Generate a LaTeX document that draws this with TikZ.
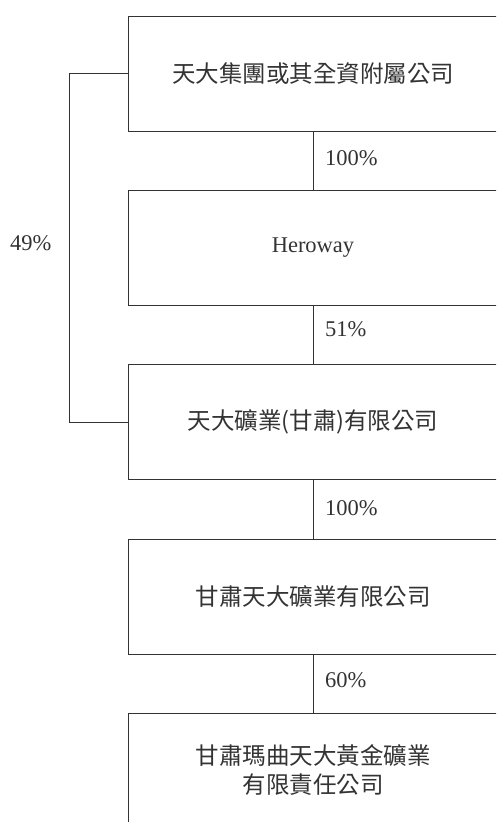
\documentclass[tikz,border=0pt]{standalone}
\usepackage{fontspec}
\setmainfont{Liberation Serif}
\newfontfamily\cjk{Noto Sans CJK TC}
\usepackage{tikz}
\usetikzlibrary{calc}
\definecolor{ink}{HTML}{333333}

\begin{document}
\begin{tikzpicture}[x=1pt,y=-1pt,
    company/.style={draw=ink,line width=0.9pt,minimum width=370pt,minimum height=115pt,
      inner sep=0pt,align=center,text=ink,font=\fontsize{23.5}{29}\selectfont\cjk},
    share/.style={anchor=west,text=ink,inner sep=0pt,font=\fontsize{22.5}{27}\selectfont},
    link/.style={draw=ink,line width=0.9pt}]
          \useasboundingbox (0,0) rectangle (496,822);
          \clip (0,0) rectangle (496,822);
          \node[company] (group) at (313,73.5){天大集團或其全資附屬公司};
          \node[company] (heroway) at (313,247.5){\rmfamily\fontsize{22.5}{27}\selectfont Heroway};
          \node[company] (mining) at (313,422){天大礦業(甘肅)有限公司};
          \node[company] (gansu) at (313,597){甘肅天大礦業有限公司};
          \node[company] (maqu) at (313,770.5){甘肅瑪曲天大黃金礦業\\有限責任公司};
          \draw[link] (group.south) -- (heroway.north);
          \draw[link] (heroway.south) -- (mining.north);
          \draw[link] (mining.south) -- (gansu.north);
          \draw[link] (gansu.south) -- (maqu.north);
          \draw[link] (group.west) -- ++(-58,0) |- (mining.west);
          \node[share] (p1) at (325,158){100\%};
          \node[share] (p2) at (325,329){51\%};
          \node[share] (p3) at (325,508){100\%};
          \node[share] (p4) at (325,680){60\%};
          \node[share] (p5) at (10,243){49\%};
        \end{tikzpicture}
\end{document}
